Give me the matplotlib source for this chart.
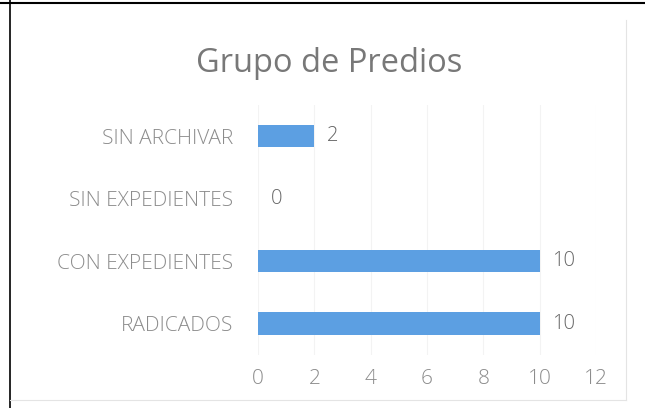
import numpy as np
import matplotlib
matplotlib.use("Agg")
import matplotlib.pyplot as plt
from matplotlib.lines import Line2D

categorias = ["RADICADOS", "CON EXPEDIENTES", "SIN EXPEDIENTES", "SIN ARCHIVAR"]
valores = [10, 10, 0, 2]
ticks_x = [0, 2, 4, 6, 8, 10, 12]

plt.rcParams['font.family'] = ['Open Sans', 'DejaVu Sans']
gris = '#8c8c8c'

fig = plt.figure(figsize=(6.45, 4.08), dpi=100)
ax = fig.add_axes([0.4, 0.13, 0.524, 0.613])

y = np.arange(len(categorias))
ax.barh(y, valores, height=0.36, color='#5c9fe2')
for yi, v in zip(y, valores):
    ax.text(v + 0.45, yi, str(v), va='center', ha='left', color='#666666',
            fontsize=14.5, fontweight='light')

ax.set_xlim(0, 12)
ax.set_ylim(-0.5, 3.5)
ax.set_yticks(y)
ax.set_yticklabels(categorias, color=gris, fontsize=15, fontweight='light')
ax.set_xticks(ticks_x)
ax.set_xticklabels([str(t) for t in ticks_x], color=gris, fontsize=15, fontweight='light')
ax.tick_params(length=0, axis='y', pad=18)
ax.tick_params(length=0, axis='x', pad=10)
ax.xaxis.grid(True, color='#f3f3f3', linewidth=0.8)
ax.set_axisbelow(True)
for s in ax.spines.values():
    s.set_visible(False)

fig.text(0.51, 0.845, "Grupo de Predios", ha='center', va='center', fontsize=23.5, color='#787878')

# marco del documento escaneado
fig.add_artist(Line2D([0.0, 1.0], [0.993, 0.993], color='black', lw=1.5))
fig.add_artist(Line2D([0.016, 0.016], [0.0, 1.0], color='black', lw=1.2))
fig.add_artist(Line2D([0.97, 0.97], [0.02, 0.95], color='#e4e4e4', lw=0.8))
fig.add_artist(Line2D([0.016, 0.97], [0.02, 0.02], color='#e4e4e4', lw=0.8))

fig.savefig("out.png", dpi=100)
